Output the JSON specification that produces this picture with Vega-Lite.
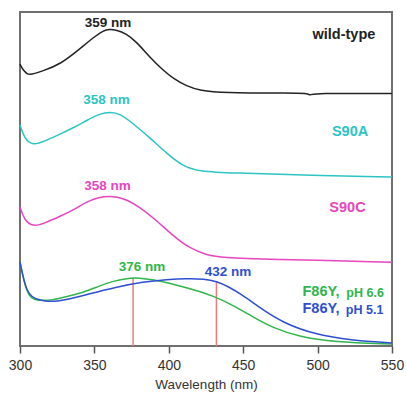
{
  "$schema": "https://vega.github.io/schema/vega-lite/v6.json",
  "width": 372,
  "height": 334,
  "autosize": {"type": "none"},
  "padding": {"left": 20, "top": 12, "right": 14, "bottom": 48},
  "background": "white",
  "config": {
    "view": {"stroke": "#707070", "strokeWidth": 2},
    "font": "Liberation Sans"
  },
  "datasets": {
    "spectra": [
      {"series": "wild-type", "wl": 300, "abs": 84.4},
      {"series": "wild-type", "wl": 302, "abs": 82.6},
      {"series": "wild-type", "wl": 305, "abs": 81.4},
      {"series": "wild-type", "wl": 307, "abs": 81.2},
      {"series": "wild-type", "wl": 315, "abs": 82.3},
      {"series": "wild-type", "wl": 327, "abs": 84.3},
      {"series": "wild-type", "wl": 340, "abs": 88.9},
      {"series": "wild-type", "wl": 350, "abs": 92.6},
      {"series": "wild-type", "wl": 356, "abs": 94.4},
      {"series": "wild-type", "wl": 360, "abs": 94.9},
      {"series": "wild-type", "wl": 365, "abs": 94.6},
      {"series": "wild-type", "wl": 371, "abs": 93.6},
      {"series": "wild-type", "wl": 378, "abs": 91.2},
      {"series": "wild-type", "wl": 387, "abs": 86.6},
      {"series": "wild-type", "wl": 396, "abs": 82.6},
      {"series": "wild-type", "wl": 403, "abs": 80.1},
      {"series": "wild-type", "wl": 412, "abs": 77.8},
      {"series": "wild-type", "wl": 421, "abs": 76.5},
      {"series": "wild-type", "wl": 436, "abs": 75.8},
      {"series": "wild-type", "wl": 480, "abs": 75.7},
      {"series": "wild-type", "wl": 493, "abs": 75.7},
      {"series": "wild-type", "wl": 495, "abs": 75.0},
      {"series": "wild-type", "wl": 497, "abs": 75.7},
      {"series": "wild-type", "wl": 550, "abs": 75.6},

      {"series": "S90A", "wl": 300, "abs": 66.2},
      {"series": "S90A", "wl": 303, "abs": 62.0},
      {"series": "S90A", "wl": 308.7, "abs": 60.0},
      {"series": "S90A", "wl": 316.8, "abs": 61.4},
      {"series": "S90A", "wl": 326.9, "abs": 63.4},
      {"series": "S90A", "wl": 337, "abs": 65.6},
      {"series": "S90A", "wl": 345, "abs": 67.6},
      {"series": "S90A", "wl": 353.8, "abs": 69.6},
      {"series": "S90A", "wl": 360.5, "abs": 70.1},
      {"series": "S90A", "wl": 367.2, "abs": 69.6},
      {"series": "S90A", "wl": 375.9, "abs": 66.6},
      {"series": "S90A", "wl": 387.4, "abs": 62.3},
      {"series": "S90A", "wl": 398.8, "abs": 57.6},
      {"series": "S90A", "wl": 409.5, "abs": 53.8},
      {"series": "S90A", "wl": 421, "abs": 52.2},
      {"series": "S90A", "wl": 443, "abs": 51.8},
      {"series": "S90A", "wl": 488, "abs": 51.2},
      {"series": "S90A", "wl": 550, "abs": 50.6},

      {"series": "S90C", "wl": 300, "abs": 41.6},
      {"series": "S90C", "wl": 303, "abs": 37.6},
      {"series": "S90C", "wl": 308.7, "abs": 35.7},
      {"series": "S90C", "wl": 316.8, "abs": 36.8},
      {"series": "S90C", "wl": 326.9, "abs": 38.8},
      {"series": "S90C", "wl": 337, "abs": 41.0},
      {"series": "S90C", "wl": 345, "abs": 43.2},
      {"series": "S90C", "wl": 353, "abs": 44.6},
      {"series": "S90C", "wl": 360.5, "abs": 44.9},
      {"series": "S90C", "wl": 369.2, "abs": 44.4},
      {"series": "S90C", "wl": 380.6, "abs": 41.6},
      {"series": "S90C", "wl": 392, "abs": 37.5},
      {"series": "S90C", "wl": 402.8, "abs": 33.0},
      {"series": "S90C", "wl": 414.2, "abs": 29.2},
      {"series": "S90C", "wl": 425.7, "abs": 27.2},
      {"series": "S90C", "wl": 436, "abs": 26.5},
      {"series": "S90C", "wl": 466, "abs": 26.0},
      {"series": "S90C", "wl": 550, "abs": 25.1},

      {"series": "F86Y pH 6.6", "wl": 300, "abs": 25.2},
      {"series": "F86Y pH 6.6", "wl": 302, "abs": 20.8},
      {"series": "F86Y pH 6.6", "wl": 304.5, "abs": 16.4},
      {"series": "F86Y pH 6.6", "wl": 307.5, "abs": 14.3},
      {"series": "F86Y pH 6.6", "wl": 311.4, "abs": 13.6},
      {"series": "F86Y pH 6.6", "wl": 322.2, "abs": 13.7},
      {"series": "F86Y pH 6.6", "wl": 332.3, "abs": 14.9},
      {"series": "F86Y pH 6.6", "wl": 342.3, "abs": 16.0},
      {"series": "F86Y pH 6.6", "wl": 352, "abs": 17.7},
      {"series": "F86Y pH 6.6", "wl": 362, "abs": 19.4},
      {"series": "F86Y pH 6.6", "wl": 372, "abs": 20.3},
      {"series": "F86Y pH 6.6", "wl": 380, "abs": 20.4},
      {"series": "F86Y pH 6.6", "wl": 390, "abs": 19.8},
      {"series": "F86Y pH 6.6", "wl": 400, "abs": 18.9},
      {"series": "F86Y pH 6.6", "wl": 412.2, "abs": 17.4},
      {"series": "F86Y pH 6.6", "wl": 429.7, "abs": 15.1},
      {"series": "F86Y pH 6.6", "wl": 443.1, "abs": 12.2},
      {"series": "F86Y pH 6.6", "wl": 456.6, "abs": 8.7},
      {"series": "F86Y pH 6.6", "wl": 470, "abs": 5.4},
      {"series": "F86Y pH 6.6", "wl": 488.2, "abs": 2.7},
      {"series": "F86Y pH 6.6", "wl": 510.3, "abs": 1.2},
      {"series": "F86Y pH 6.6", "wl": 550, "abs": 0.6},

      {"series": "F86Y pH 5.1", "wl": 300, "abs": 25.2},
      {"series": "F86Y pH 5.1", "wl": 302, "abs": 20.8},
      {"series": "F86Y pH 5.1", "wl": 304.5, "abs": 16.6},
      {"series": "F86Y pH 5.1", "wl": 308.7, "abs": 14.2},
      {"series": "F86Y pH 5.1", "wl": 316.8, "abs": 13.4},
      {"series": "F86Y pH 5.1", "wl": 324.9, "abs": 13.2},
      {"series": "F86Y pH 5.1", "wl": 342.3, "abs": 15.1},
      {"series": "F86Y pH 5.1", "wl": 365.2, "abs": 17.7},
      {"series": "F86Y pH 5.1", "wl": 382.7, "abs": 19.2},
      {"series": "F86Y pH 5.1", "wl": 398.8, "abs": 19.9},
      {"series": "F86Y pH 5.1", "wl": 412, "abs": 20.2},
      {"series": "F86Y pH 5.1", "wl": 424, "abs": 20.1},
      {"series": "F86Y pH 5.1", "wl": 432, "abs": 19.4},
      {"series": "F86Y pH 5.1", "wl": 440, "abs": 17.8},
      {"series": "F86Y pH 5.1", "wl": 449, "abs": 15.4},
      {"series": "F86Y pH 5.1", "wl": 461.3, "abs": 11.4},
      {"series": "F86Y pH 5.1", "wl": 476.7, "abs": 6.9},
      {"series": "F86Y pH 5.1", "wl": 499.6, "abs": 3.3},
      {"series": "F86Y pH 5.1", "wl": 521.8, "abs": 1.8},
      {"series": "F86Y pH 5.1", "wl": 550, "abs": 0.9}
    ],
    "peaks": [
      {"wl": 376, "abs": 20.4},
      {"wl": 432, "abs": 19.4}
    ],
    "nmLabels": [
      {"series": "wild-type", "wl": 359.1, "abs": 96.7, "text": "359 nm"},
      {"series": "S90A", "wl": 358.1, "abs": 73.7, "text": "358 nm"},
      {"series": "S90C", "wl": 358.8, "abs": 47.9, "text": "358 nm"},
      {"series": "F86Y pH 6.6", "wl": 382, "abs": 23.7, "text": "376 nm"},
      {"series": "F86Y pH 5.1", "wl": 439.8, "abs": 22.2, "text": "432 nm"}
    ],
    "nameLabels": [
      {"series": "wild-type", "wl": 517.7, "abs": 93.1, "text": "wild-type"},
      {"series": "S90A", "wl": 521.8, "abs": 64.1, "text": "S90A"},
      {"series": "S90C", "wl": 520.1, "abs": 41.3, "text": "S90C"},
      {"series": "F86Y pH 6.6", "wl": 502.3, "abs": 16.2, "text": "F86Y,"},
      {"series": "F86Y pH 5.1", "wl": 502.3, "abs": 11.1, "text": "F86Y,"}
    ],
    "phLabels": [
      {"series": "F86Y pH 6.6", "wl": 531.9, "abs": 16.0, "text": "pH 6.6"},
      {"series": "F86Y pH 5.1", "wl": 531.6, "abs": 10.9, "text": "pH 5.1"}
    ]
  },
  "encoding": {
    "x": {
      "field": "wl", "type": "quantitative",
      "scale": {"domain": [300, 550], "nice": false, "zero": false},
      "axis": {
        "title": "Wavelength (nm)",
        "values": [300, 350, 400, 450, 500, 550],
        "grid": false,
        "domain": false,
        "tickColor": "#555",
        "tickSize": 7,
        "tickWidth": 1.5,
        "labelColor": "#333",
        "labelFontSize": 14,
        "labelPadding": 5,
        "labelFlush": false,
        "labelOverlap": false,
        "titleFontSize": 13.5,
        "titleFontWeight": "normal",
        "titleColor": "#333",
        "titlePadding": 5
      }
    },
    "y": {
      "field": "abs", "type": "quantitative",
      "scale": {"domain": [0, 100], "nice": false},
      "axis": null
    },
    "color": {
      "field": "series", "type": "nominal",
      "scale": {
        "domain": ["wild-type", "S90A", "S90C", "F86Y pH 6.6", "F86Y pH 5.1"],
        "range": ["#222222", "#2cc4c4", "#e845c0", "#30b64a", "#2f4fd2"]
      },
      "legend": null
    }
  },
  "layer": [
    {
      "data": {"name": "peaks"},
      "mark": {"type": "rule", "color": "#f07a7a", "strokeWidth": 1.5},
      "encoding": {
        "y": {"datum": 0, "type": "quantitative"},
        "y2": {"field": "abs"},
        "color": {"value": "#f07a7a"}
      }
    },
    {
      "data": {"name": "spectra"},
      "mark": {"type": "line", "strokeWidth": 1.5, "interpolate": "basis"},
      "encoding": {"detail": {"field": "series"}}
    },
    {
      "data": {"name": "nmLabels"},
      "mark": {"type": "text", "fontSize": 13.5, "fontWeight": "bold", "baseline": "middle", "align": "center"},
      "encoding": {"text": {"field": "text"}}
    },
    {
      "data": {"name": "nameLabels"},
      "mark": {"type": "text", "fontSize": 14.5, "fontWeight": "bold", "baseline": "middle", "align": "center"},
      "encoding": {"text": {"field": "text"}}
    },
    {
      "data": {"name": "phLabels"},
      "mark": {"type": "text", "fontSize": 12.5, "fontWeight": "bold", "baseline": "middle", "align": "center"},
      "encoding": {"text": {"field": "text"}}
    }
  ]
}
